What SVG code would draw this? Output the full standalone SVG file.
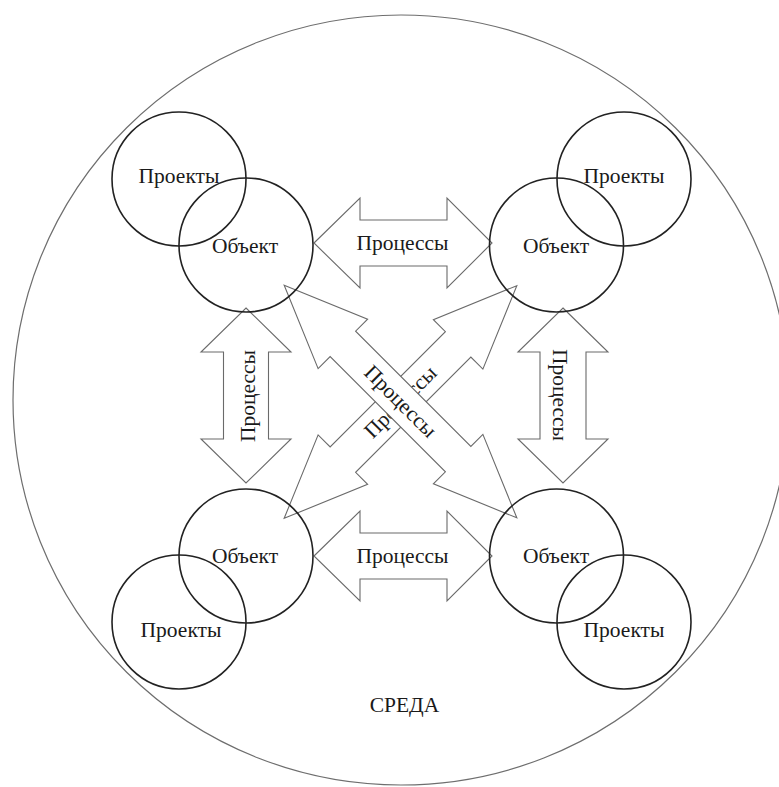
<svg xmlns="http://www.w3.org/2000/svg" width="779" height="787" viewBox="0 0 779 787">
  <style>
    .env { fill: none; stroke: #6e6e6e; stroke-width: 1.2; }
    .circ { fill: none; stroke: #222; stroke-width: 1.6; }
    .arr { fill: #fff; stroke: #6a6a6a; stroke-width: 1.1; stroke-linejoin: miter; }
    text { font-family: "Liberation Serif", "Times New Roman", serif; font-size: 21.5px; fill: #1a1a1a; text-anchor: middle; }
  </style>
  <rect width="779" height="787" fill="#fff"/>
  <g id="environment">
    <ellipse class="env" cx="401" cy="400" rx="388" ry="385"/>
    <text x="404.5" y="712">СРЕДА</text>
  </g>
  <g id="connectors">
    <g id="arrow-top">
      <polygon class="arr" points="314,243 360,198 360,220 447,220 447,198 492,243 447,288 447,266 360,266 360,288"/>
      <text x="402.5" y="250">Процессы</text>
    </g>
    <g id="arrow-bottom">
      <polygon class="arr" points="314,556 360,511 360,533 447,533 447,511 492,556 447,601 447,579 360,579 360,601"/>
      <text x="402.5" y="563">Процессы</text>
    </g>
    <g id="arrow-left">
      <polygon class="arr" points="246,308 291,352 268.5,352 268.5,439 291,439 246,483 201,439 223.5,439 223.5,352 201,352"/>
      <text transform="translate(248,396) rotate(-90)" x="0" y="7">Процессы</text>
    </g>
    <g id="arrow-right">
      <polygon class="arr" points="563,308 608,352 586,352 586,439 608,439 563,483 518,439 540,439 540,352 518,352"/>
      <text transform="translate(560,395) rotate(90)" x="0" y="7">Процессы</text>
    </g>
    <g id="arrow-diag-tr-bl" transform="translate(400.5,402) rotate(-45)">
      <polygon class="arr" points="-164.5,0 -81.5,-35 -81.5,-18 81.5,-18 81.5,-35 164.5,0 81.5,35 81.5,18 -81.5,18 -81.5,35"/>
      <text x="0" y="7">Процессы</text>
    </g>
    <g id="arrow-diag-tl-br" transform="translate(400.5,401.5) rotate(45)">
      <polygon class="arr" points="-164.5,0 -81.5,-35 -81.5,-18 81.5,-18 81.5,-35 164.5,0 81.5,35 81.5,18 -81.5,18 -81.5,35"/>
      <text x="0" y="7">Процессы</text>
    </g>
  </g>
  <g id="tl-projects">
    <circle class="circ" cx="179" cy="179" r="67"/>
    <text x="179" y="183">Проекты</text>
  </g>
  <g id="tl-object">
    <circle class="circ" cx="246" cy="245" r="67"/>
    <text x="245" y="253">Объект</text>
  </g>
  <g id="tr-projects">
    <circle class="circ" cx="624" cy="179" r="67"/>
    <text x="624" y="183">Проекты</text>
  </g>
  <g id="tr-object">
    <circle class="circ" cx="556.5" cy="245" r="67"/>
    <text x="556" y="253">Объект</text>
  </g>
  <g id="bl-object">
    <circle class="circ" cx="246" cy="556" r="67"/>
    <text x="245" y="563">Объект</text>
  </g>
  <g id="bl-projects">
    <circle class="circ" cx="179" cy="622" r="67"/>
    <text x="181" y="637">Проекты</text>
  </g>
  <g id="br-object">
    <circle class="circ" cx="556.5" cy="556" r="67"/>
    <text x="556" y="563">Объект</text>
  </g>
  <g id="br-projects">
    <circle class="circ" cx="624" cy="622" r="67"/>
    <text x="624" y="637">Проекты</text>
  </g>
</svg>
